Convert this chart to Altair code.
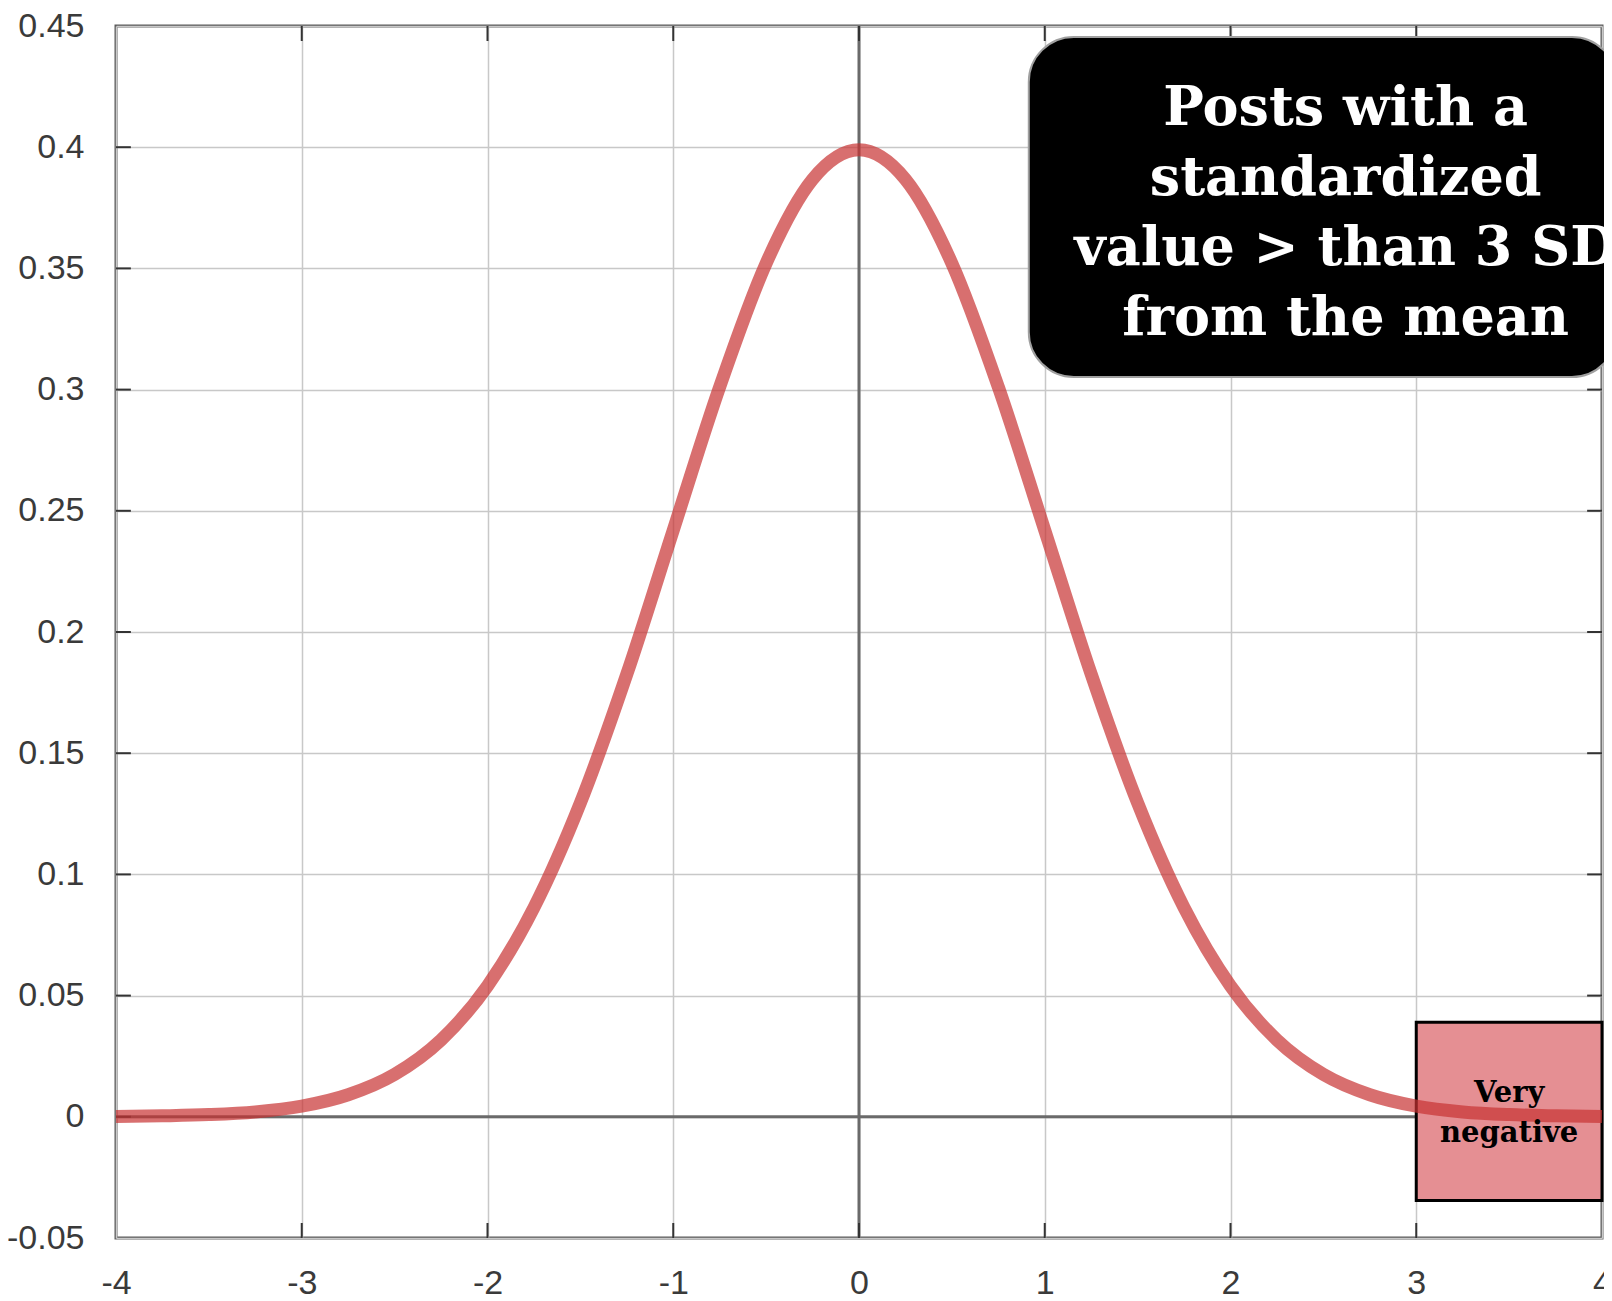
import altair as alt
import pandas as pd

# ---- data ----
curve_x = [-4.0, -3.75, -3.5, -3.25, -3.0, -2.75, -2.5, -2.25, -2.0, -1.75, -1.5, -1.25,
           -1.0, -0.75, -0.5, -0.25, 0.0, 0.25, 0.5, 0.75, 1.0, 1.25, 1.5, 1.75, 2.0,
           2.25, 2.5, 2.75, 3.0, 3.25, 3.5, 3.75, 4.0]
curve_y = [0.0001, 0.0004, 0.0009, 0.0020, 0.0044, 0.0091, 0.0175, 0.0317, 0.0540, 0.0863,
           0.1295, 0.1826, 0.2420, 0.3011, 0.3521, 0.3867, 0.3989, 0.3867, 0.3521, 0.3011,
           0.2420, 0.1826, 0.1295, 0.0863, 0.0540, 0.0317, 0.0175, 0.0091, 0.0044, 0.0020,
           0.0009, 0.0004, 0.0001]
x_ticks = [-4, -3, -2, -1, 0, 1, 2, 3, 4]
y_ticks = [-0.05, 0.0, 0.05, 0.1, 0.15, 0.2, 0.25, 0.3, 0.35, 0.4, 0.45]

callout_lines = ["Posts with a", "standardized", "value > than 3 SD", "from the mean"]
tail_lines = ["Very", "negative"]

# ---- annotation placement (data coordinates) ----
callout_box = dict(x=0.914, x2=4.08, y=0.4455, y2=0.3052)
callout_x = 2.62
callout_y = [0.4092, 0.3803, 0.3514, 0.3225]
tail_box = dict(x=3.0, x2=4.0, y=0.039, y2=-0.0345)
tail_x = 3.5
tail_y = [0.0061, -0.0104]

XS = alt.Scale(domain=[-4, 4], nice=False, zero=False)
YS = alt.Scale(domain=[-0.05, 0.45], nice=False, zero=False)
LABEL_FONT = "Liberation Sans Narrow, Liberation Sans, Arial, sans-serif"

x_axis = alt.Axis(values=x_ticks, grid=True, gridColor="#c8c8c8", gridWidth=1.5,
                  ticks=False, tickSize=0, domain=False, labelFlush=False,
                  labelFont=LABEL_FONT, labelFontSize=34, labelColor="#3a3a3a",
                  labelPadding=28, labelExpr="toString(datum.value)", title=None)
y_axis = alt.Axis(values=y_ticks, grid=True, gridColor="#c8c8c8", gridWidth=1.5,
                  ticks=False, tickSize=0, domain=False, labelFlush=False,
                  labelFont=LABEL_FONT, labelFontSize=34, labelColor="#3a3a3a",
                  labelPadding=32, labelExpr="toString(datum.value)", title=None)


def X(field):
    return alt.X(field, type="quantitative", scale=XS, axis=x_axis)


def Y(field):
    return alt.Y(field, type="quantitative", scale=YS, axis=y_axis)


curve_df = pd.DataFrame({"x": curve_x, "y": curve_y})

# inward tick marks (gnuplot style) on all four borders
tx = 0.08      # horizontal tick length in x units
ty = 0.0062    # vertical tick length in y units
tick_rows = []
for v in x_ticks[1:-1]:
    tick_rows.append(dict(x=v, x2=v, y=-0.05, y2=-0.05 + ty))
    tick_rows.append(dict(x=v, x2=v, y=0.45, y2=0.45 - ty))
for v in y_ticks[1:-1]:
    tick_rows.append(dict(x=-4, x2=-4 + tx, y=v, y2=v))
    tick_rows.append(dict(x=4, x2=4 - tx, y=v, y2=v))
ticks_df = pd.DataFrame(tick_rows)

zero_df = pd.DataFrame([dict(x=0, x2=0, y=-0.05, y2=0.45),
                        dict(x=-4, x2=4, y=0, y2=0)])

base_grid = alt.Chart(curve_df).mark_point(opacity=0).encode(x=X("x"), y=Y("y"))

zero_lines = alt.Chart(zero_df).mark_rule(color="#6a6a6a", strokeWidth=3).encode(
    x=X("x"), x2="x2", y=Y("y"), y2="y2")

tick_marks = alt.Chart(ticks_df).mark_rule(color="#333333", strokeWidth=2).encode(
    x=X("x"), x2="x2", y=Y("y"), y2="y2")

tail_rect = alt.Chart(pd.DataFrame([tail_box])).mark_rect(
    fill="#e58f93", stroke="#000000", strokeWidth=3).encode(
    x=X("x"), x2="x2", y=Y("y"), y2="y2")

curve = alt.Chart(curve_df).mark_line(
    color="#c83232", opacity=0.7, strokeWidth=13, interpolate="monotone").encode(
    x=X("x"), y=Y("y"))

tail_text = alt.Chart(pd.DataFrame({"t": tail_lines, "x": [tail_x] * 2, "y": tail_y})).mark_text(
    font="DejaVu Serif", fontWeight="bold", fontSize=29, color="#000000",
    align="center", baseline="alphabetic").encode(x=X("x"), y=Y("y"), text="t:N")

callout_rect = alt.Chart(pd.DataFrame([callout_box])).mark_rect(
    fill="#000000", stroke="#a0a0a0", strokeWidth=2, cornerRadius=45).encode(
    x=X("x"), x2="x2", y=Y("y"), y2="y2")

callout_text = alt.Chart(pd.DataFrame({"t": callout_lines, "x": [callout_x] * 4,
                                       "y": callout_y})).mark_text(
    font="DejaVu Serif", fontWeight="bold", fontSize=54, color="#ffffff",
    align="center", baseline="alphabetic").encode(x=X("x"), y=Y("y"), text="t:N")

chart = alt.layer(base_grid, zero_lines, tick_marks, tail_rect, curve, tail_text,
                  callout_rect, callout_text).properties(
    width=1486, height=1212,
    autosize=alt.AutoSizeParams(type="none"),
    padding={"left": 108, "top": 18, "right": 2, "bottom": 70},
    background="#ffffff",
).configure_view(stroke="#5a5a5a", strokeWidth=3)

chart.save("out.html", embed_options={"renderer": "svg", "actions": False})
